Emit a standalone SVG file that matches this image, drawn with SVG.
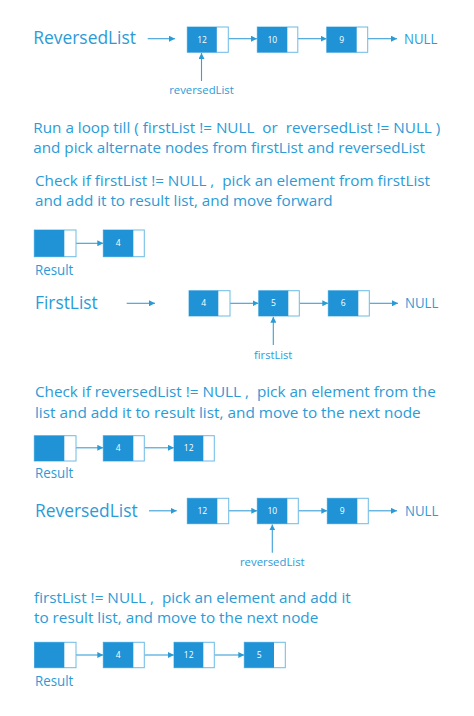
<svg xmlns="http://www.w3.org/2000/svg" width="474" height="716" viewBox="0 0 474 716">
<style>
.t{font-family:"Open Sans","Noto Sans","Liberation Sans",sans-serif;fill:#2b9bd7;white-space:pre}
.h{font-size:17.5px}
.b{font-size:13.6px}
.s{font-size:10.5px}
.n{font-family:"Open Sans","Noto Sans","Liberation Sans",sans-serif;font-size:8.5px;fill:#ffffff;text-anchor:middle}
.box{fill:#ffffff;stroke:#6cbbe6;stroke-width:1}
.dk{fill:#1f93d6}
.c{stroke:#3a9fd8;stroke-width:1.1;fill:none;marker-end:url(#ah)}
</style>
<defs>
<marker id="ah" markerUnits="userSpaceOnUse" markerWidth="7" markerHeight="6" refX="6" refY="3" orient="auto">
<path d="M0,0 L6,3 L0,6 Z" fill="#2b9bd7"/>
</marker>
</defs>
<rect width="474" height="716" fill="#ffffff"/>

<g id="texts">
<text class="t h" x="33.3" y="43.8" textLength="102.7" lengthAdjust="spacingAndGlyphs">ReversedList</text>
<text class="t b" x="404" y="44" textLength="33.3" lengthAdjust="spacingAndGlyphs">NULL</text>
<text class="t s" x="201.5" y="94.3" text-anchor="middle" textLength="64.7" lengthAdjust="spacingAndGlyphs">reversedList</text>
<text class="t b" x="33.3" y="132.7" textLength="407" lengthAdjust="spacingAndGlyphs">Run a loop till ( firstList != NULL  or  reversedList != NULL )</text>
<text class="t b" x="33.3" y="153.3" textLength="391.7" lengthAdjust="spacingAndGlyphs">and pick alternate nodes from firstList and reversedList</text>
<text class="t b" x="35" y="186" textLength="395" lengthAdjust="spacingAndGlyphs">Check if firstList != NULL ,  pick an element from firstList</text>
<text class="t b" x="35" y="205.7" textLength="297.7" lengthAdjust="spacingAndGlyphs">and add it to result list, and move forward</text>
<text class="t b" x="35" y="275" textLength="38.3" lengthAdjust="spacingAndGlyphs">Result</text>
<text class="t h" x="35" y="309.3" textLength="62.7" lengthAdjust="spacingAndGlyphs">FirstList</text>
<text class="t b" x="405" y="308" textLength="33.3" lengthAdjust="spacingAndGlyphs">NULL</text>
<text class="t s" x="273.2" y="359" text-anchor="middle" textLength="38.3" lengthAdjust="spacingAndGlyphs">firstList</text>
<text class="t b" x="35" y="396.7" textLength="400.7" lengthAdjust="spacingAndGlyphs">Check if reversedList != NULL ,  pick an element from the</text>
<text class="t b" x="35" y="417.7" textLength="385.7" lengthAdjust="spacingAndGlyphs">list and add it to result list, and move to the next node</text>
<text class="t b" x="35" y="478.3" textLength="38.3" lengthAdjust="spacingAndGlyphs">Result</text>
<text class="t h" x="35" y="516.7" textLength="102.7" lengthAdjust="spacingAndGlyphs">ReversedList</text>
<text class="t b" x="405" y="516" textLength="33.3" lengthAdjust="spacingAndGlyphs">NULL</text>
<text class="t s" x="272.3" y="566" text-anchor="middle" textLength="64.7" lengthAdjust="spacingAndGlyphs">reversedList</text>
<text class="t b" x="34" y="603.3" textLength="316.7" lengthAdjust="spacingAndGlyphs">firstList != NULL ,  pick an element and add it</text>
<text class="t b" x="34" y="623.3" textLength="284.3" lengthAdjust="spacingAndGlyphs">to result list, and move to the next node</text>
<text class="t b" x="35" y="686" textLength="38.3" lengthAdjust="spacingAndGlyphs">Result</text>
</g>

<g id="connectors">
<path class="c" d="M147.7,38.7 H175"/>
<path class="c" d="M228.5,38.7 H257"/>
<path class="c" d="M298,38.7 H326.7"/>
<path class="c" d="M368,38.7 H397"/>
<path class="c" d="M201.5,81 V53"/>
<path class="c" d="M76,243.3 H103.3"/>
<path class="c" d="M126.7,303.3 H155"/>
<path class="c" d="M230,303.3 H258.5"/>
<path class="c" d="M299.5,303.3 H328.3"/>
<path class="c" d="M369.5,303.3 H398"/>
<path class="c" d="M273.3,345 V316.7"/>
<path class="c" d="M76,447.8 H103.3"/>
<path class="c" d="M144.5,447.8 H174"/>
<path class="c" d="M149,510.8 H176.7"/>
<path class="c" d="M228.7,510.8 H257.3"/>
<path class="c" d="M298.3,510.8 H327.3"/>
<path class="c" d="M368.3,510.8 H397"/>
<path class="c" d="M272.3,552.7 V524.4"/>
<path class="c" d="M76,655 H103.3"/>
<path class="c" d="M144.5,655 H174"/>
<path class="c" d="M214.5,655 H244.3"/>
</g>

<g id="rA12"><rect class="box" x="187.3" y="27" width="41" height="25.3"/><rect class="dk" x="187.3" y="27" width="29.5" height="25.3"/><text class="n" x="202" y="42.5">12</text></g>
<g id="rA10"><rect class="box" x="257.3" y="27" width="40.5" height="25.3"/><rect class="dk" x="257.3" y="27" width="30" height="25.3"/><text class="n" x="272.3" y="42.5">10</text></g>
<g id="rA9"><rect class="box" x="326.7" y="27" width="41" height="25.3"/><rect class="dk" x="326.7" y="27" width="30" height="25.3"/><text class="n" x="341.7" y="42.5">9</text></g>

<g id="rB0"><rect class="box" x="34.3" y="230" width="41.7" height="26.7"/><rect class="dk" x="34.3" y="230" width="30" height="26.7"/></g>
<g id="rB4"><rect class="box" x="103.3" y="230" width="41" height="26.7"/><rect class="dk" x="103.3" y="230" width="30" height="26.7"/><text class="n" x="118.3" y="246.2">4</text></g>

<g id="fC4"><rect class="box" x="189" y="290.7" width="41" height="25.3"/><rect class="dk" x="189" y="290.7" width="29.3" height="25.3"/><text class="n" x="203.7" y="306.2">4</text></g>
<g id="fC5"><rect class="box" x="258.7" y="290.7" width="40.6" height="25.3"/><rect class="dk" x="258.7" y="290.7" width="29.6" height="25.3"/><text class="n" x="273.5" y="306.2">5</text></g>
<g id="fC6"><rect class="box" x="328.3" y="290.7" width="41" height="25.3"/><rect class="dk" x="328.3" y="290.7" width="30" height="25.3"/><text class="n" x="343.3" y="306.2">6</text></g>

<g id="rD0"><rect class="box" x="34.3" y="435.7" width="41.7" height="25.3"/><rect class="dk" x="34.3" y="435.7" width="30" height="25.3"/></g>
<g id="rD4"><rect class="box" x="103.3" y="435.7" width="41" height="25.3"/><rect class="dk" x="103.3" y="435.7" width="30" height="25.3"/><text class="n" x="118.3" y="451.2">4</text></g>
<g id="rD12"><rect class="box" x="174" y="435.7" width="40.3" height="25.3"/><rect class="dk" x="174" y="435.7" width="29.3" height="25.3"/><text class="n" x="188.7" y="451.2">12</text></g>

<g id="rE12"><rect class="box" x="187.3" y="498.3" width="41.4" height="25.4"/><rect class="dk" x="187.3" y="498.3" width="30" height="25.4"/><text class="n" x="202.3" y="513.8">12</text></g>
<g id="rE10"><rect class="box" x="257.3" y="498.3" width="41" height="25.4"/><rect class="dk" x="257.3" y="498.3" width="30" height="25.4"/><text class="n" x="272.3" y="513.8">10</text></g>
<g id="rE9"><rect class="box" x="327.3" y="498.3" width="41" height="25.4"/><rect class="dk" x="327.3" y="498.3" width="30" height="25.4"/><text class="n" x="342.3" y="513.8">9</text></g>

<g id="rF0"><rect class="box" x="34.5" y="642.3" width="41.5" height="25.4"/><rect class="dk" x="34.5" y="642.3" width="29.8" height="25.4"/></g>
<g id="rF4"><rect class="box" x="103.3" y="642.3" width="41" height="25.4"/><rect class="dk" x="103.3" y="642.3" width="30" height="25.4"/><text class="n" x="118.3" y="657.8">4</text></g>
<g id="rF12"><rect class="box" x="174" y="642.3" width="40.3" height="25.4"/><rect class="dk" x="174" y="642.3" width="29.3" height="25.4"/><text class="n" x="188.7" y="657.8">12</text></g>
<g id="rF5"><rect class="box" x="244.3" y="642.3" width="41" height="25.4"/><rect class="dk" x="244.3" y="642.3" width="29.7" height="25.4"/><text class="n" x="259.2" y="657.8">5</text></g>
</svg>
